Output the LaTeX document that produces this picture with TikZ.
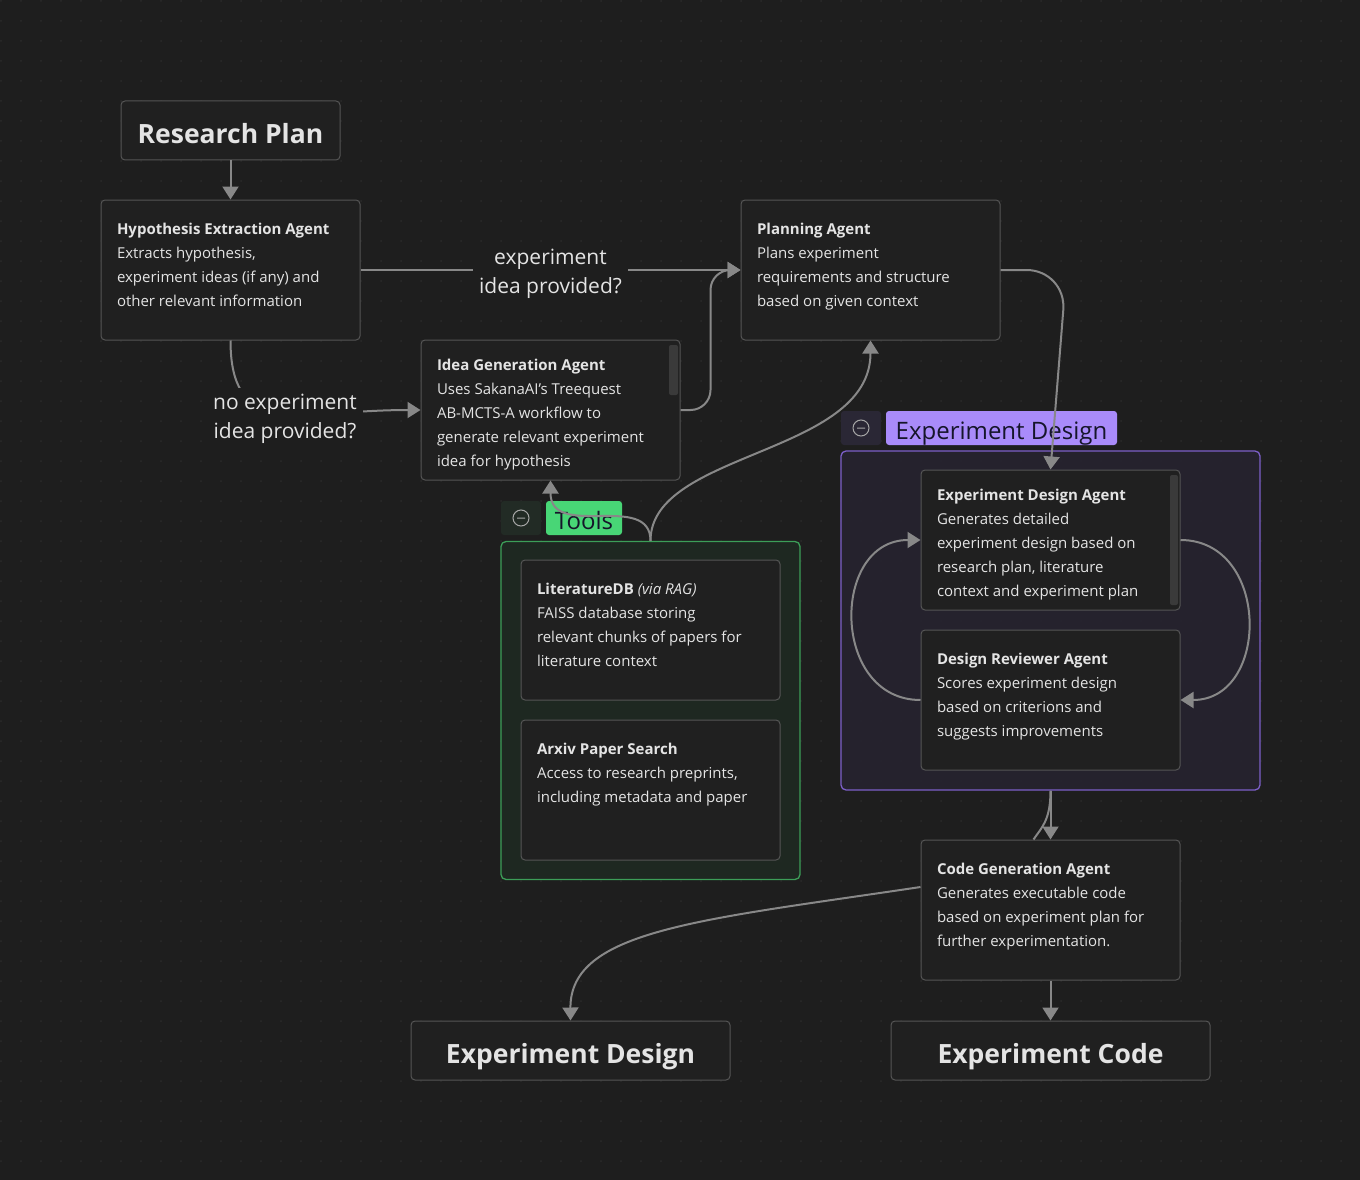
\documentclass[tikz,border=0pt]{standalone}
\usepackage{fontspec}
\setmainfont{Open Sans}
\usepackage{xcolor}
\usepackage{tikz}
\usetikzlibrary{arrows.meta,calc}

\definecolor{bg}{HTML}{1E1E1E}
\definecolor{dotc}{HTML}{2B2B2B}
\definecolor{boxfill}{HTML}{202020}
\definecolor{boxline}{HTML}{555555}
\definecolor{linkc}{HTML}{888888}
\definecolor{txt}{HTML}{E4E4E4}
\definecolor{toolsline}{HTML}{3C9E58}
\definecolor{toolsfill}{HTML}{1F2922}
\definecolor{toolstag}{HTML}{48D676}
\definecolor{toolsbtn}{HTML}{222B25}
\definecolor{edline}{HTML}{7C5FC8}
\definecolor{edfill}{HTML}{26232F}
\definecolor{edtag}{HTML}{A98BFA}
\definecolor{edbtn}{HTML}{2A2735}
\definecolor{tagtxt}{HTML}{15152A}
\definecolor{scrollc}{HTML}{3A3A3A}

\newcommand{\agentbody}[3][0pt]{\parbox[c][104pt][t]{227pt}{\vspace*{#1}\strut\textbf{#2}\\#3}}

\begin{document}
\begin{tikzpicture}[x=1pt, y=1pt,
	agent/.style={draw=boxline, fill=boxfill, line width=1pt, rounded corners=4pt, inner xsep=16pt, inner ysep=18pt, text=txt, font=\fontsize{15}{24}\selectfont},
	outbox/.style={draw=boxline, fill=boxfill, line width=1pt, rounded corners=4pt, minimum width=319pt, minimum height=59pt, text height=25pt, text depth=0pt, text=txt, font=\fontsize{26.5}{30}\selectfont\bfseries},
	group/.style={line width=1.3pt, rounded corners=5pt},
	tag/.style={rounded corners=3pt, minimum height=34pt, inner sep=0pt, text height=23pt, text depth=0pt, text=tagtxt, font=\fontsize{24}{24}\selectfont},
	btn/.style={rounded corners=3pt, minimum width=40pt, minimum height=34pt, inner sep=0pt},
	cond/.style={fill=bg, text=txt, align=center, inner sep=6pt, font=\fontsize{21}{29}\selectfont},
	link/.style={draw=linkc, line width=2pt, -{Triangle[length=13pt,width=16pt]}},
	wire/.style={draw=linkc, line width=2pt}]
	\fill[bg] (0,0) rectangle (1360,-1180);
	\foreach \i in {0,...,67}{\foreach \j in {0,...,58}{\fill[dotc] (\i*20+1,-\j*20-1) circle (1pt);}}

	\node[outbox, minimum width=219pt] (rp) at (230.5,-130.5) {Research Plan};
	\node[agent] (hyp) at (230.5,-270) {\agentbody{Hypothesis Extraction Agent}{Extracts hypothesis,\\experiment ideas (if any) and\\other relevant information}};
	\node[agent] (plan) at (870.5,-270) {\agentbody{Planning Agent}{Plans experiment\\requirements and structure\\based on given context}};
	\node[agent] (idea) at (550.5,-410) {\agentbody[-4pt]{Idea Generation Agent}{Uses SakanaAI's Treequest\\AB-MCTS-A workflow to\\generate relevant experiment\\idea for hypothesis}};
	\fill[scrollc, rounded corners=2pt] (669,-345) rectangle (678,-395);

	\node[group, draw=toolsline, fill=toolsfill, fill opacity=.92, minimum width=299pt, minimum height=338pt] (tools) at (650.5,-710.5) {};
	\node[btn, fill=toolsbtn] (tbtn) at (521,-518) {};
	\node[tag, fill=toolstag, minimum width=76pt] (ttag) at (584,-518) {Tools};
	\draw[gray!70, line width=1pt] (tbtn) circle (8pt) ([xshift=-4pt]tbtn.center) -- ([xshift=4pt]tbtn.center);
	\node[agent] (litdb) at (650.5,-630) {\agentbody{LiteratureDB \textmd{\textit{(via RAG)}}}{FAISS database storing\\relevant chunks of papers for\\literature context}};
	\node[agent] (arxiv) at (650.5,-790) {\agentbody{Arxiv Paper Search}{Access to research preprints,\\including metadata and paper}};

	\node[group, draw=edline, fill=edfill, fill opacity=.92, minimum width=419pt, minimum height=339pt] (edgrp) at (1050.5,-620.5) {};
	\node[btn, fill=edbtn] (ebtn) at (861,-428) {};
	\node[tag, fill=edtag, minimum width=231pt] (etag) at (1001.5,-428) {Experiment Design};
	\draw[gray!70, line width=1pt] (ebtn) circle (8pt) ([xshift=-4pt]ebtn.center) -- ([xshift=4pt]ebtn.center);
	\node[agent] (eda) at (1050.5,-540) {\agentbody[-4pt]{Experiment Design Agent}{Generates detailed\\experiment design based on\\research plan, literature\\context and experiment plan}};
	\fill[scrollc, rounded corners=2pt] (1170,-475) rectangle (1178,-605);
	\node[agent] (dra) at (1050.5,-700) {\agentbody{Design Reviewer Agent}{Scores experiment design\\based on criterions and\\suggests improvements}};

	\node[agent] (code) at (1050.5,-910) {\agentbody{Code Generation Agent}{Generates executable code\\based on experiment plan for\\further experimentation.}};
	\node[outbox] (outd) at (570.5,-1050.5) {Experiment Design};
	\node[outbox] (outc) at (1050.5,-1050.5) {Experiment Code};

	\draw[link] (rp) -- (hyp);
	\draw[link] (hyp) -- node[cond, yshift=-4pt] {experiment\\idea provided?} (plan);
	\draw[link] (hyp.south) .. controls +(0,-100) and +(-120,0) .. (idea.west);
	\draw[link, rounded corners=20pt] (idea.east) -| ($(idea.east)!.5!(plan.west)$) |- (plan.west);
	\draw[link] (tools.north) .. controls +(0,90) and +(0,-115) .. (plan.south);
	\draw[link] (tools.north) .. controls +(0,50) and +(0,-60) .. (idea.south);
	\draw[link, rounded corners=40pt] (plan.east) -- ++(66,0) -- (eda.north);
	\draw[link] (dra.west) .. controls +(-90,0) and +(-90,0) .. (eda.west);
	\draw[link] (eda.east) .. controls +(90,0) and +(90,0) .. (dra.east);
	\draw[link] (edgrp.south) -- (code.north);
	\draw[wire] (edgrp.south) .. controls +(0,-30) and +(8,12) .. ([xshift=-17pt]code.north);
	\draw[link] ([yshift=23pt]code.west) .. controls (700,-920) and (570,-930) .. (outd.north);
	\draw[link] (code) -- (outc);
	\node[cond] (nolbl) at (285,-419) {no experiment\\idea provided?};
\end{tikzpicture}
\end{document}
